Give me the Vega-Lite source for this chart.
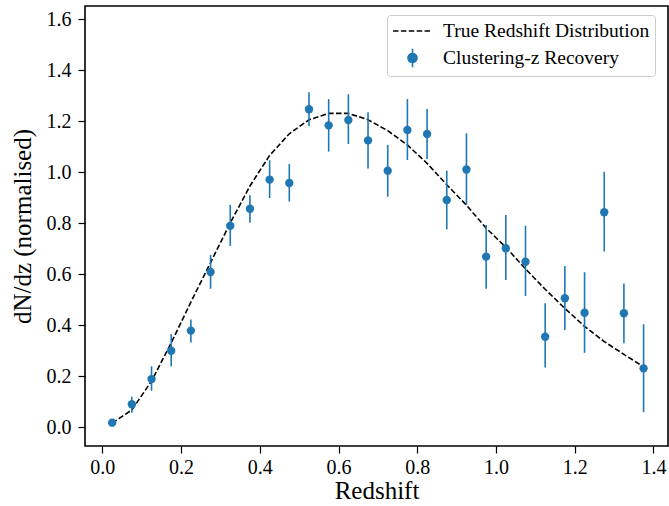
{
  "$schema": "https://vega.github.io/schema/vega-lite/v6.json",
  "autosize": {"type": "none"},
  "padding": {"left": 85, "top": 6, "right": 1, "bottom": 60},
  "width": 583,
  "height": 440,
  "config": {
    "view": {"stroke": "black", "strokeWidth": 1.6},
    "font": "Liberation Serif",
    "axis": {
      "grid": false,
      "domain": false,
      "tickColor": "black",
      "tickWidth": 1.2,
      "tickSize": 7,
      "labelFont": "Liberation Serif",
      "labelFontSize": 20,
      "labelColor": "black",
      "titleFont": "Liberation Serif",
      "titleFontSize": 25,
      "titleFontWeight": "normal",
      "titleColor": "black"
    }
  },
  "datasets": {
    "truth": [
      {"z": 0.025, "n": 0.015}, {"z": 0.075, "n": 0.067}, {"z": 0.125, "n": 0.18}, {"z": 0.175, "n": 0.33},
      {"z": 0.225, "n": 0.49}, {"z": 0.275, "n": 0.645}, {"z": 0.325, "n": 0.80}, {"z": 0.375, "n": 0.945},
      {"z": 0.425, "n": 1.065}, {"z": 0.475, "n": 1.15}, {"z": 0.525, "n": 1.205}, {"z": 0.575, "n": 1.23},
      {"z": 0.625, "n": 1.23}, {"z": 0.675, "n": 1.205}, {"z": 0.725, "n": 1.162}, {"z": 0.775, "n": 1.106},
      {"z": 0.825, "n": 1.034}, {"z": 0.875, "n": 0.95}, {"z": 0.925, "n": 0.87}, {"z": 0.975, "n": 0.78},
      {"z": 1.025, "n": 0.705}, {"z": 1.075, "n": 0.62}, {"z": 1.125, "n": 0.54}, {"z": 1.175, "n": 0.465},
      {"z": 1.225, "n": 0.395}, {"z": 1.275, "n": 0.335}, {"z": 1.325, "n": 0.285}, {"z": 1.375, "n": 0.236}
    ],
    "recovery": [
      {"z": 0.025, "n": 0.017, "lo": 0.005, "hi": 0.03},
      {"z": 0.075, "n": 0.089, "lo": 0.056, "hi": 0.119},
      {"z": 0.125, "n": 0.188, "lo": 0.142, "hi": 0.238},
      {"z": 0.175, "n": 0.299, "lo": 0.238, "hi": 0.364},
      {"z": 0.225, "n": 0.378, "lo": 0.331, "hi": 0.422},
      {"z": 0.275, "n": 0.608, "lo": 0.542, "hi": 0.675},
      {"z": 0.325, "n": 0.789, "lo": 0.71, "hi": 0.871},
      {"z": 0.375, "n": 0.856, "lo": 0.801, "hi": 0.909},
      {"z": 0.425, "n": 0.970, "lo": 0.898, "hi": 1.046},
      {"z": 0.475, "n": 0.957, "lo": 0.884, "hi": 1.031},
      {"z": 0.525, "n": 1.246, "lo": 1.180, "hi": 1.313},
      {"z": 0.575, "n": 1.183, "lo": 1.080, "hi": 1.286},
      {"z": 0.625, "n": 1.204, "lo": 1.110, "hi": 1.305},
      {"z": 0.675, "n": 1.124, "lo": 1.014, "hi": 1.234},
      {"z": 0.725, "n": 1.005, "lo": 0.903, "hi": 1.106},
      {"z": 0.775, "n": 1.165, "lo": 1.047, "hi": 1.286},
      {"z": 0.825, "n": 1.149, "lo": 1.051, "hi": 1.247},
      {"z": 0.875, "n": 0.890, "lo": 0.775, "hi": 1.005},
      {"z": 0.925, "n": 1.010, "lo": 0.871, "hi": 1.152},
      {"z": 0.975, "n": 0.668, "lo": 0.542, "hi": 0.792},
      {"z": 1.025, "n": 0.701, "lo": 0.576, "hi": 0.831},
      {"z": 1.075, "n": 0.648, "lo": 0.514, "hi": 0.789},
      {"z": 1.125, "n": 0.354, "lo": 0.233, "hi": 0.485},
      {"z": 1.175, "n": 0.505, "lo": 0.380, "hi": 0.631},
      {"z": 1.225, "n": 0.448, "lo": 0.291, "hi": 0.607},
      {"z": 1.275, "n": 0.842, "lo": 0.688, "hi": 1.001},
      {"z": 1.325, "n": 0.446, "lo": 0.328, "hi": 0.563},
      {"z": 1.375, "n": 0.230, "lo": 0.058, "hi": 0.403}
    ]
  },
  "encoding": {
    "x": {
      "type": "quantitative",
      "scale": {"domain": [-0.044, 1.437], "nice": false, "zero": false},
      "axis": {"values": [0, 0.2, 0.4, 0.6, 0.8, 1.0, 1.2, 1.4], "format": ".1f", "title": "Redshift", "labelPadding": 4, "titlePadding": 1}
    },
    "y": {
      "type": "quantitative",
      "scale": {"domain": [-0.0745, 1.651], "nice": false, "zero": false},
      "axis": {"values": [0, 0.2, 0.4, 0.6, 0.8, 1.0, 1.2, 1.4, 1.6], "format": ".1f", "title": "dN/dz (normalised)", "labelPadding": 7, "titlePadding": 11}
    },
    "color": {
      "scale": {"domain": ["True Redshift Distribution", "Clustering-z Recovery"], "range": ["black", "#1f77b4"]},
      "legend": {
        "title": null,
        "orient": "none",
        "legendX": 302,
        "legendY": 9,
        "fillColor": "white",
        "strokeColor": "#cccccc",
        "cornerRadius": 3,
        "padding": 5,
        "labelFont": "Liberation Serif",
        "labelFontSize": 19.5,
        "labelColor": "black",
        "labelLimit": 400,
        "labelOffset": 29,
        "rowPadding": 4,
        "symbolSize": 400,
        "symbolStrokeWidth": 1.6,
        "encode": {
          "symbols": {
            "update": {
              "shape": {"signal": "datum.value === 'True Redshift Distribution' ? 'M-1.0,0L2.7,0' : 'M0.95,-0.93L0.95,0.93M1.4,0A0.45,0.45,0,1,1,0.5,0A0.45,0.45,0,1,1,1.4,0Z'"},
              "strokeDash": {"signal": "datum.value === 'True Redshift Distribution' ? [5.5, 2.4] : [1, 0]"},
              "fill": {"signal": "datum.value === 'True Redshift Distribution' ? 'transparent' : '#1f77b4'"},
              "stroke": {"signal": "datum.value === 'True Redshift Distribution' ? 'black' : '#1f77b4'"},
              "strokeWidth": {"value": 1.6},
              "opacity": {"value": 1}
            }
          }
        }
      }
    }
  },
  "layer": [
    {
      "data": {"name": "truth"},
      "mark": {"type": "line", "strokeDash": [5.5, 2.4], "strokeWidth": 1.6},
      "encoding": {
        "x": {"field": "z"},
        "y": {"field": "n"},
        "color": {"datum": "True Redshift Distribution"}
      }
    },
    {
      "data": {"name": "recovery"},
      "mark": {"type": "rule", "strokeWidth": 1.6},
      "encoding": {
        "x": {"field": "z"},
        "y": {"field": "lo"},
        "y2": {"field": "hi"},
        "color": {"datum": "Clustering-z Recovery"}
      }
    },
    {
      "data": {"name": "recovery"},
      "mark": {"type": "point", "filled": true, "size": 70, "opacity": 1, "shape": "circle"},
      "encoding": {
        "x": {"field": "z"},
        "y": {"field": "n"},
        "color": {"datum": "Clustering-z Recovery"}
      }
    }
  ]
}
